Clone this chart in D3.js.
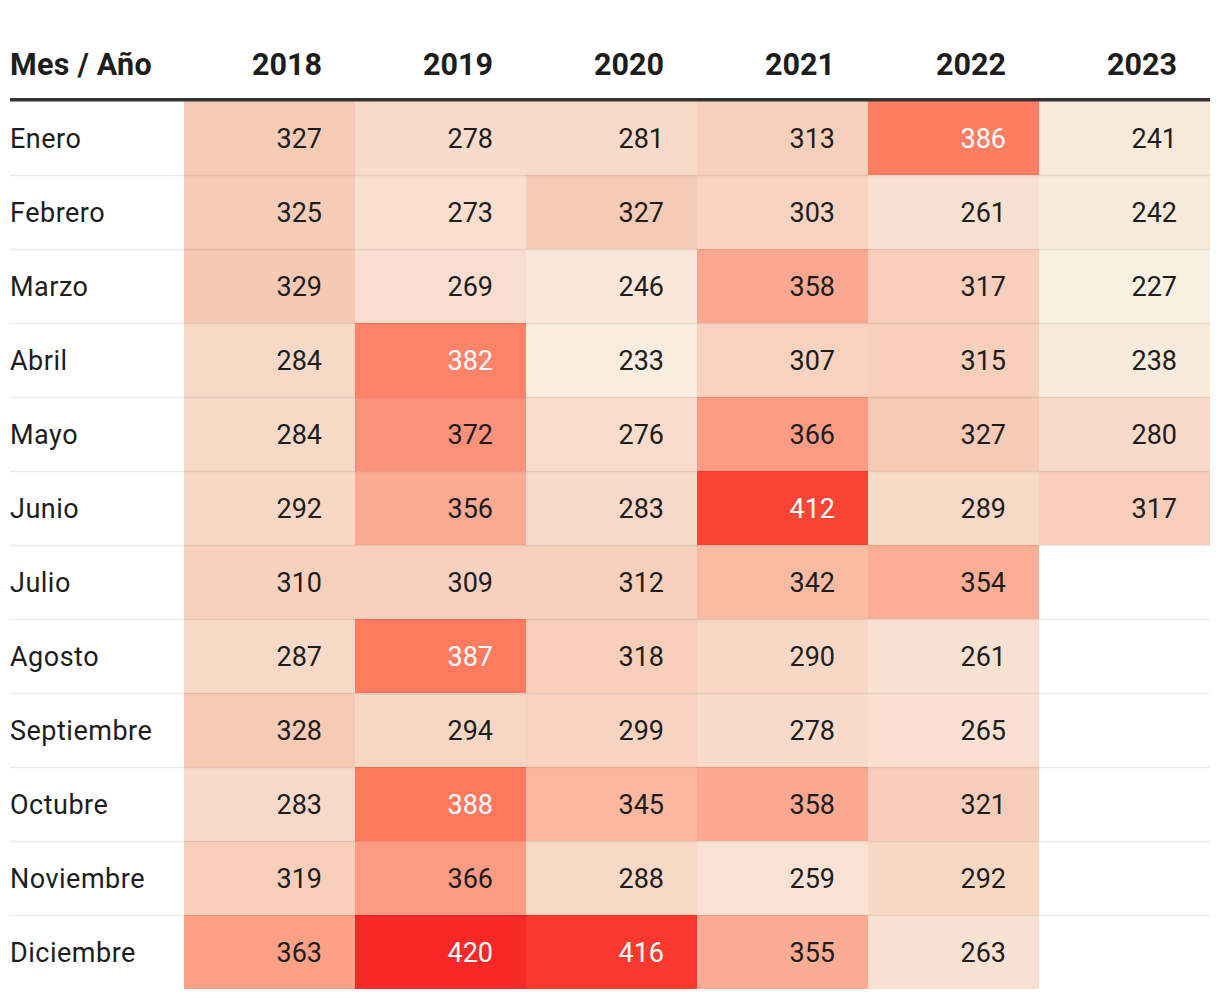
<!DOCTYPE html>
<html>
<head>
<meta charset="utf-8">
<script src="https://cdn.jsdelivr.net/npm/d3@7"></script>
<style>
  html, body { margin: 0; padding: 0; background: #fff; }
  svg { display: block; font-family: Roboto, "Noto Sans", sans-serif; }
</style>
</head>
<body>
<svg id="chart" width="1220" height="998"></svg>
<script>
const firstHeader = "Mes / Año";
const months = ["Enero","Febrero","Marzo","Abril","Mayo","Junio","Julio","Agosto","Septiembre","Octubre","Noviembre","Diciembre"];
const years = ["2018","2019","2020","2021","2022","2023"];
const v2018 = [327,325,329,284,284,292,310,287,328,283,319,363];
const v2019 = [278,273,269,382,372,356,309,387,294,388,366,420];
const v2020 = [281,327,246,233,276,283,312,318,299,345,288,416];
const v2021 = [313,303,358,307,366,412,342,290,278,358,259,355];
const v2022 = [386,261,317,315,327,289,354,261,265,321,292,263];
const v2023 = [241,242,227,238,280,317,null,null,null,null,null,null];
const series = [v2018, v2019, v2020, v2021, v2022, v2023];

const colorStops = [227, 269, 303, 327, 345, 358, 372, 386, 412, 420];
const colorRange = ["#f8f0e1","#f9decf","#f7d3c0","#f6cbb5","#fbb8a0","#fca890","#fe9179","#ff7d62","#fa4535","#f82828"];
const color = d3.scaleLinear().domain(colorStops).range(colorRange).interpolate(d3.interpolateLab).clamp(true);

(function draw() {
const svg = d3.select("#chart");
const mLeft = 10, mRight = 1210, labelW = 174;
const mTop = 101, mBottom = 989;

const x = d3.scaleBand().domain(years).range([mLeft + labelW, mRight]).paddingInner(0).paddingOuter(0);
const y = d3.scaleBand().domain(months).range([mTop, mBottom]);

const cells = [];
series.forEach((vals, j) => vals.forEach((v, i) => { if (v != null) cells.push({year: years[j], month: months[i], value: v}); }));

svg.append("g").selectAll("rect").data(cells).join("rect")
  .attr("x", d => x(d.year))
  .attr("y", d => y(d.month))
  .attr("width", x.bandwidth())
  .attr("height", y.bandwidth())
  .attr("fill", d => color(d.value));

svg.append("g").selectAll("line").data(months.slice(1)).join("line")
  .attr("x1", mLeft).attr("x2", mRight)
  .attr("y1", d => y(d) + 0.5).attr("y2", d => y(d) + 0.5)
  .attr("stroke", "rgba(0,0,0,0.075)").attr("stroke-width", 1.5);

const header = svg.append("g").attr("font-weight", 700).attr("font-size", 30.5).attr("fill", "#1d1d1d");
header.append("text").attr("x", mLeft).attr("y", 75).attr("letter-spacing", 0.25).text(firstHeader);
header.selectAll("text.yr").data(years).join("text").attr("class", "yr")
  .attr("x", d => x(d) + x.bandwidth() - 33).attr("y", 75)
  .attr("text-anchor", "end").text(d => d);

svg.append("rect").attr("x", mLeft).attr("y", 98).attr("width", mRight - mLeft).attr("height", 3.5).attr("fill", "#333");

svg.append("g").selectAll("text").data(months).join("text")
  .attr("x", mLeft).attr("y", d => y(d) + y.bandwidth() / 2 + 10)
  .attr("font-size", 27).attr("letter-spacing", 0.5).attr("fill", "#1d1d1d").text(d => d);

svg.append("g").selectAll("text").data(cells).join("text")
  .attr("x", d => x(d.year) + x.bandwidth() - 33)
  .attr("y", d => y(d.month) + y.bandwidth() / 2 + 10)
  .attr("text-anchor", "end").attr("font-size", 27)
  .attr("fill", d => d.value >= 378 ? "#ffffff" : "#1d1d1d")
  .text(d => d.value);
})();
</script>
</body>
</html>
